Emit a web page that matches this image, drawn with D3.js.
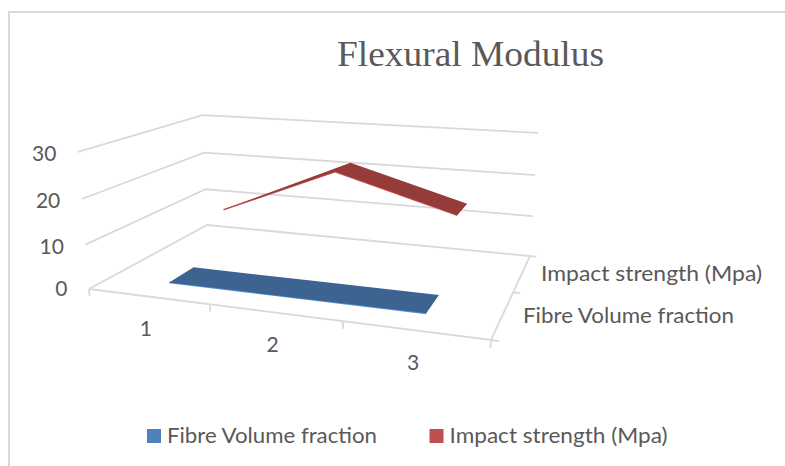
<!DOCTYPE html>
<html><head><meta charset="utf-8">
<script src="https://cdn.jsdelivr.net/npm/d3@7"></script>
<style>html,body{margin:0;padding:0;background:#fff}svg{display:block}text{font-family:Lato,"Open Sans",sans-serif;fill:#595959}</style>
</head><body><svg id="c" width="785" height="466"></svg>
<script>
const chartTitle = "Flexural Modulus";
const categories = ["1","2","3"];
const seriesNames = ["Fibre Volume fraction","Impact strength (Mpa)"];
const fibreValues = [0.2,0.2,0.2];
const impactValues = [10,21.5,13.6];
const impactRibbonShare = [0.1,1,1];
const fibreRibbonShare = [1,1,1];
const valueTicks = [0,10,20,30];
const seriesFill = ["#3d6491","#953c3b"];
const seriesEdge = ["#5b8fd0","#d0605c"];
const legendFill = ["#4f81bd","#c0504d"];

const svg = d3.select("#c");
svg.append("path").attr("d","M9,466V12H785").attr("fill","none").attr("stroke","#d9d9d9").attr("stroke-width",2);

// perspective camera: category position u, depth position d, value v -> screen
const u = d3.scaleBand().domain(categories).range([0,1]);
const depth = d3.scaleBand().domain(seriesNames).range([0,1]);
const val = d3.scaleLinear().domain([0,30]).range([0,30]);
function proj(a,b,c){
  const w = 1 - 0.1415*a + 0.2617*b - 0.001447*c;
  return [(332.5*a + 172.2*b + 89 - 0.4797*c)/w, (2.9*a - 5.1*b + 289 - 4.788*c)/w];
}
const line = d3.line();
const grid = svg.append("g").attr("fill","none").attr("stroke","#d9d9d9").attr("stroke-width",1.8);
const seg = pts => line(pts.map(p=>proj(p[0],p[1],p[2])));
grid.selectAll(".g").data(valueTicks).join("path")
  .attr("d",t=>seg([[0,0,val(t)],[0,1,val(t)],[1,1,val(t)]]));
grid.append("path").attr("d",seg([[0,0,0],[1,0,0],[1,1,0]]));
const catEdges = [0,...categories.map(c=>u(c)+u.bandwidth())];
grid.selectAll(".ct").data(catEdges).join("path").attr("d",e=>seg([[e,0,0],[e,0,-1.6]]));
const depEdges = [0,...seriesNames.map(s=>depth(s)+depth.bandwidth())];
grid.selectAll(".dt").data(depEdges).join("path").attr("d",e=>seg([[1,e,0],[1.017,e,0]]));

// ribbons
function ribbon(values,shares,name,i){
  const d0 = depth(name)+depth.bandwidth()*0.325;
  const dw = depth.bandwidth()*0.41;
  const front = categories.map((c,k)=>proj(u(c)+u.bandwidth()/2,d0,val(values[k])));
  const back = categories.map((c,k)=>proj(u(c)+u.bandwidth()/2,d0+dw*shares[k],val(values[k])));
  const g = svg.append("g");
  g.append("path").attr("d",line(front)).attr("fill","none").attr("stroke",seriesEdge[i]).attr("stroke-width",1.6);
  g.append("path").attr("d",line(front.concat(back.slice().reverse()))+"Z")
    .attr("fill",seriesFill[i]);
}
ribbon(fibreValues,fibreRibbonShare,seriesNames[0],0);
ribbon(impactValues,impactRibbonShare,seriesNames[1],1);

// labels
svg.append("text").text(chartTitle).attr("x",337).attr("y",66)
  .attr("textLength",267).attr("lengthAdjust","spacingAndGlyphs")
  .style("font-family","'Liberation Serif',serif").style("font-size","36px");
const fs = "21px";
svg.selectAll(".vl").data(valueTicks).join("text").text(d=>d)
  .attr("x",t=>proj(0,0,val(t))[0]-21.5).attr("y",t=>proj(0,0,val(t))[1]+(t?2:0)).attr("dy","0.35em")
  .attr("text-anchor","end").style("font-size",fs);
svg.selectAll(".cl").data(categories).join("text").text(d=>d)
  .attr("x",c=>proj(u(c)+u.bandwidth()/2,0,0)[0]-2)
  .attr("y",c=>proj(u(c)+u.bandwidth()/2,0,0)[1]+32).attr("dy","0.35em")
  .attr("text-anchor","middle").style("font-size",fs);
svg.selectAll(".sl").data(seriesNames).join("text").text(d=>d)
  .attr("x",(s,i)=>i?541:523).attr("y",(s,i)=>i?274:316).attr("dy","0.35em")
  .attr("textLength",(s,i)=>i?221:211).attr("lengthAdjust","spacingAndGlyphs")
  .style("font-size","21px");
// legend
const lg = svg.selectAll(".lg").data(seriesNames).join("g").attr("transform",(s,i)=>`translate(${i?429.5:147},429)`);
lg.append("rect").attr("width",14).attr("height",14).attr("fill",(s,i)=>legendFill[i]);
lg.append("text").text(d=>d).attr("x",20).attr("y",7).attr("dy","0.35em")
  .attr("textLength",(s,i)=>i?218:210).attr("lengthAdjust","spacingAndGlyphs").style("font-size","21px");
</script></body></html>
